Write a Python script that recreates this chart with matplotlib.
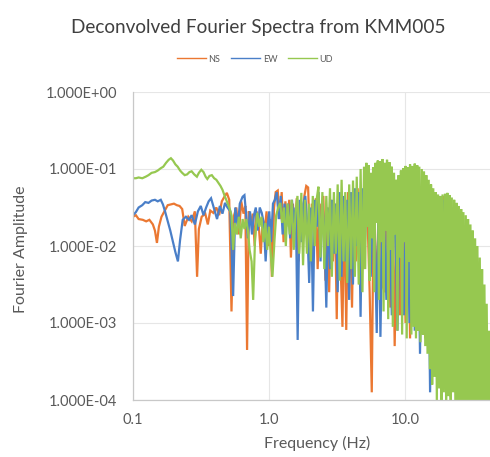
import matplotlib
matplotlib.use("Agg")
import matplotlib.pyplot as plt
from matplotlib.lines import Line2D
import numpy as np

# ---------------------------------------------------------------------------
# Chart text
# ---------------------------------------------------------------------------
title = "Deconvolved Fourier Spectra from KMM005"
x_label = "Frequency (Hz)"
y_label = "Fourier Amplitude"
series_names = ["NS", "EW", "UD"]
series_colors = ["#EB7832", "#4A7FC8", "#96C850"]

x_ticks = [0.1, 1.0, 10.0]
x_tick_labels = ["0.1", "1.0", "10.0"]
y_ticks = [1e-4, 1e-3, 1e-2, 1e-1, 1e0]
y_tick_labels = ["1.000E-04", "1.000E-03", "1.000E-02", "1.000E-01", "1.000E+00"]

# ---------------------------------------------------------------------------
# Spectra: frequency (Hz) and log10 of the Fourier amplitude
# ---------------------------------------------------------------------------
ns_freq = [
    0.100, 0.105, 0.110, 0.118, 0.125, 0.132, 0.140, 0.145, 0.150, 0.155,
    0.162, 0.170, 0.180, 0.190, 0.200, 0.210, 0.220, 0.230, 0.240, 0.255,
    0.270, 0.285, 0.296, 0.305, 0.320, 0.340, 0.355, 0.370, 0.390, 0.410,
    0.430, 0.450, 0.470, 0.490,
    0.51, 0.53, 0.55, 0.575, 0.60, 0.625, 0.65, 0.67, 0.69, 0.71,
    0.735, 0.76, 0.785, 0.81, 0.84, 0.87, 0.90, 0.93, 0.96, 0.99,
    1.02, 1.05, 1.09, 1.12, 1.16, 1.20, 1.24, 1.28, 1.32, 1.36,
    1.41, 1.45, 1.50, 1.55, 1.60, 1.65, 1.71, 1.76, 1.82, 1.88,
    1.94, 2.01, 2.07, 2.14, 2.21, 2.28, 2.36, 2.43, 2.51, 2.60,
    2.68, 2.77, 2.86, 2.95, 3.05, 3.15, 3.25, 3.36, 3.47, 3.58,
    3.70, 3.82, 3.95, 4.08, 4.21, 4.35, 4.49, 4.64, 4.79, 4.95,
    5.2, 5.5, 5.7, 5.9, 6.2, 6.5, 6.8, 7.1, 7.4, 7.8,
    8.1, 8.4, 8.8, 9.2, 9.6, 10.1, 10.5, 10.9, 11.4, 11.9,
    12.4, 12.9, 13.5, 14.1, 14.7, 15.4, 16.1, 16.9, 17.7, 18.5,
    19.3, 20.1, 21.0, 22.0, 23.0, 24.0, 25.2, 26.4, 27.6, 28.9,
    30.2, 31.6, 33.0, 34.5, 36.0, 37.6, 39.3, 41.0, 42.5,
]
ns_log_amp = [
    -1.62, -1.60, -1.65, -1.66, -1.68, -1.66, -1.72, -1.80, -1.96, -1.75,
    -1.62, -1.55, -1.47, -1.46, -1.45, -1.47, -1.48, -1.52, -1.74, -1.62,
    -1.68, -1.55, -2.40, -1.78, -1.62, -1.58, -1.72, -1.54, -1.57, -1.50,
    -1.60, -1.42, -1.36, -1.31,
    -1.40, -2.85, -1.62, -1.50, -1.85, -1.42, -1.58, -1.48, -3.35, -1.55,
    -1.70, -1.58, -2.00, -1.55, -1.72, -2.10, -1.65, -1.80, -1.55, -2.00,
    -1.65, -2.40, -1.50, -1.30, -1.28, -1.65, -1.30, -1.95, -1.42, -1.70,
    -1.40, -2.15, -1.45, -1.85, -1.38, -2.20, -1.45, -1.90, -1.35, -1.22,
    -1.24, -2.10, -1.45, -1.75, -1.38, -2.30, -1.45, -1.80, -1.35, -2.45,
    -1.50, -2.60, -1.40, -2.20, -1.45, -2.95, -1.35, -2.20, -3.05, -1.40,
    -3.09, -1.30, -1.75, -2.80, -1.30, -2.20, -1.25, -2.50, -1.28, -2.30,
    -1.10, -2.60, -3.90, -1.20, -2.70, -1.10, -2.50, -2.60, -1.05, -2.80,
    -1.10, -3.30, -1.20, -2.90, -1.10, -3.00, -1.20, -3.20, -1.05, -2.90,
    -1.10, -3.00, -1.10, -3.20, -1.20, -3.40, -1.30, -3.30, -1.40, -3.60,
    -1.35, -3.90, -1.40, -3.50, -1.50, -4.20, -1.60, -3.70, -1.80, -4.30,
    -2.00, -4.20, -2.30, -4.40, -2.70, -4.40, -3.20, -4.50, -3.80,
]

ew_freq = [
    0.100, 0.105, 0.110, 0.117, 0.123, 0.130, 0.137, 0.145, 0.152, 0.160,
    0.166, 0.172, 0.180, 0.188, 0.197, 0.205, 0.214, 0.222, 0.232, 0.245,
    0.258, 0.270, 0.285, 0.300, 0.315, 0.330, 0.345, 0.360, 0.375, 0.395,
    0.415, 0.435, 0.455, 0.475, 0.495,
    0.52, 0.545, 0.565, 0.59, 0.61, 0.64, 0.66, 0.68, 0.70, 0.725,
    0.75, 0.775, 0.80, 0.825, 0.855, 0.885, 0.915, 0.945, 0.975, 1.005,
    1.035, 1.07, 1.105, 1.14, 1.18, 1.22, 1.26, 1.30, 1.34, 1.385,
    1.43, 1.475, 1.525, 1.575, 1.625, 1.68, 1.735, 1.79, 1.85, 1.91,
    1.975, 2.04, 2.105, 2.175, 2.245, 2.32, 2.395, 2.47, 2.555, 2.64,
    2.725, 2.815, 2.905, 3.0, 3.10, 3.20, 3.305, 3.415, 3.525, 3.64,
    3.76, 3.885, 4.015, 4.145, 4.28, 4.42, 4.565, 4.715, 4.87, 5.03,
    5.3, 5.6, 5.9, 6.2, 6.4, 6.6, 6.9, 7.3, 7.6, 8.0,
    8.4, 8.8, 9.3, 9.8, 10.3, 10.8, 11.3, 11.8, 12.4, 12.9,
    13.5, 14.1, 14.7, 15.3, 16.0, 16.8, 17.6, 18.4, 19.3, 20.2,
    21.0, 21.6, 22.5, 23.6, 24.8, 26.3, 27.5, 28.8, 30.0, 31.4,
    32.8, 34.2, 35.8, 37.3, 39.0, 40.6, 42.5,
]
ew_log_amp = [
    -1.60, -1.56, -1.50, -1.47, -1.43, -1.44, -1.41, -1.40, -1.42, -1.40,
    -1.46, -1.55, -1.68, -1.80, -1.95, -2.08, -2.20, -1.92, -1.66, -1.62,
    -1.66, -1.60, -1.72, -1.55, -1.48, -1.60, -1.50, -1.42, -1.38, -1.52,
    -1.65, -1.48, -1.58, -1.44, -1.50,
    -1.55, -2.65, -1.50, -1.75, -1.45, -1.36, -1.34, -1.60, -1.90, -1.55,
    -1.85, -1.60, -1.50, -1.80, -1.50, -1.57, -1.70, -2.20, -1.75, -1.55,
    -1.95, -1.45, -1.40, -1.30, -1.65, -1.35, -1.85, -1.45, -1.75, -1.45,
    -1.90, -1.40, -1.70, -1.50, -3.22, -1.40, -1.95, -1.45, -1.35, -1.70,
    -2.48, -1.50, -2.85, -1.40, -1.75, -1.30, -2.20, -1.45, -1.80, -2.80,
    -1.50, -2.30, -1.40, -2.10, -1.45, -2.60, -1.30, -2.40, -1.35, -2.20,
    -1.40, -2.70, -1.30, -2.50, -1.25, -2.00, -1.30, -2.92, -1.25, -2.10,
    -1.15, -2.40, -1.20, -3.13, -1.36, -3.18, -1.20, -2.70, -1.10, -2.90,
    -1.15, -3.10, -1.10, -2.90, -1.15, -3.00, -1.10, -3.10, -1.20, -3.40,
    -1.20, -3.00, -1.25, -3.90, -1.30, -3.60, -1.35, -3.40, -1.40, -3.50,
    -1.40, -3.20, -1.50, -3.80, -1.60, -4.30, -1.80, -4.00, -2.00, -4.40,
    -2.30, -4.30, -2.60, -4.50, -3.00, -4.40, -3.50,
]

ud_freq = [
    0.100, 0.105, 0.110, 0.117, 0.124, 0.130, 0.137, 0.145, 0.152, 0.160,
    0.167, 0.175, 0.183, 0.190, 0.197, 0.205, 0.213, 0.222, 0.230, 0.240,
    0.250, 0.260, 0.270, 0.282, 0.295, 0.305, 0.318, 0.330, 0.342, 0.352,
    0.365, 0.380, 0.395, 0.410, 0.425, 0.440, 0.455, 0.470, 0.485, 0.500,
    0.515,
    0.53, 0.545, 0.56, 0.58, 0.60, 0.62, 0.64, 0.66, 0.68, 0.70,
    0.72, 0.745, 0.765, 0.79, 0.82, 0.85, 0.88, 0.91, 0.94, 0.97,
    1.00,
    1.03, 1.06, 1.10, 1.13, 1.17, 1.21, 1.25, 1.29, 1.33, 1.37,
    1.42, 1.47, 1.52, 1.57, 1.62, 1.67, 1.73, 1.78, 1.84, 1.90,
    1.97, 2.03, 2.10, 2.17, 2.24, 2.31, 2.39, 2.47, 2.55, 2.64,
    2.72, 2.81, 2.90, 3.00, 3.10, 3.20, 3.31, 3.42, 3.53, 3.64,
    3.76, 3.89, 4.02, 4.15, 4.28, 4.42, 4.57, 4.72, 4.87,
    5.0, 5.1, 5.2, 5.3, 5.4, 5.5, 5.6, 5.72, 5.83, 5.95,
    6.07, 6.19, 6.31, 6.43, 6.56, 6.69, 6.82, 6.96, 7.1, 7.24,
    7.38, 7.53, 7.68, 7.83, 7.98, 8.14, 8.3, 8.47, 8.64, 8.81,
    8.98, 9.16, 9.34, 9.53, 9.72, 9.91, 10.1, 10.3, 10.5, 10.7,
    10.9, 11.15, 11.35, 11.6, 11.8, 12.05, 12.3, 12.5, 12.75, 13.0,
    13.3, 13.55, 13.8, 14.1, 14.35, 14.65, 14.95, 15.25, 15.55, 15.85,
    16.15, 16.5, 16.8, 17.15, 17.5, 17.85, 18.2, 18.55, 18.9, 19.3,
    19.7, 20.1, 20.5, 20.9, 21.3, 21.7, 22.1, 22.6, 23.0, 23.5,
    24.0, 24.4, 24.9, 25.4, 25.9, 26.4, 26.9, 27.5, 28.0, 28.6,
    29.1, 29.7, 30.3, 30.9, 31.5, 32.1, 32.8, 33.4, 34.1, 34.8,
    35.5, 36.2, 36.9, 37.6, 38.4, 39.1, 39.9, 40.7, 41.5, 42.3,
    43.2,
]
ud_log_amp = [
    -1.12, -1.12, -1.11, -1.12, -1.10, -1.08, -1.05, -1.04, -1.02, -0.99,
    -0.97, -0.92, -0.88, -0.86, -0.89, -0.94, -0.97, -1.02, -1.05, -1.08,
    -1.07, -1.04, -1.03, -1.07, -1.10, -1.05, -1.01, -1.04, -1.10, -1.13,
    -1.09, -1.08, -1.12, -1.14, -1.18, -1.22, -1.27, -1.34, -1.40, -1.46,
    -1.52,
    -1.60, -2.05, -1.70, -1.85, -1.62, -1.90, -1.65, -1.78, -1.65, -1.80,
    -2.05, -2.20, -2.70, -1.90, -1.57, -1.75, -1.62, -1.95, -1.70, -2.05,
    -1.75,
    -2.10, -2.40, -1.90, -1.60, -1.50, -1.44, -1.70, -1.50, -2.00, -1.45,
    -1.85, -1.40, -2.05, -1.55, -1.35, -2.10, -1.31, -2.25, -1.40, -2.10,
    -1.45, -2.20, -1.35, -2.00, -1.40, -1.23, -2.15, -1.30, -2.30, -1.35,
    -2.00, -1.25, -2.40, -1.30, -2.10, -1.20, -2.45, -1.14, -2.20, -1.30,
    -2.48, -1.20, -2.30, -1.15, -2.40, -1.10, -2.50, -1.00, -2.60,
    -0.97, -2.30, -0.92, -1.75, -0.95, -2.45, -1.05, -1.90, -0.98, -2.60,
    -0.92, -1.70, -0.89, -2.70, -0.90, -1.95, -0.87, -2.85, -0.92, -1.80,
    -0.88, -2.95, -0.91, -2.05, -0.97, -3.05, -1.05, -1.85, -1.14, -3.10,
    -1.08, -2.15, -1.02, -3.15, -0.99, -1.95, -0.96, -3.20, -0.98, -2.20,
    -0.94, -3.15, -0.96, -3.05, -0.93, -3.20, -0.95, -3.10, -0.97, -3.25,
    -1.00, -3.15, -1.03, -3.30, -1.08, -3.40, -1.14, -3.60, -1.20, -3.80,
    -1.25, -3.70, -1.30, -4.00, -1.33, -3.85, -1.35, -4.10, -1.33, -3.90,
    -1.32, -4.20, -1.31, -3.95, -1.34, -4.15, -1.37, -3.90, -1.40, -4.20,
    -1.44, -4.00, -1.48, -4.30, -1.52, -4.05, -1.56, -4.30, -1.60, -4.10,
    -1.65, -4.35, -1.72, -4.20, -1.80, -4.40, -1.90, -4.25, -2.00, -4.45,
    -2.15, -4.30, -2.30, -4.50, -2.50, -4.40, -2.75, -4.55, -3.10, -4.50,
    -3.60,
]

spectra = [
    (ns_freq, ns_log_amp),
    (ew_freq, ew_log_amp),
    (ud_freq, ud_log_amp),
]

# ---------------------------------------------------------------------------
# Figure
# ---------------------------------------------------------------------------
plt.rcParams["font.family"] = ["Lato", "DejaVu Sans"]
text_color = "#595959"

W, H = 490, 457
fig = plt.figure(figsize=(W / 100, H / 100), dpi=100)
fig.patch.set_facecolor("white")

# plot area in pixels: left 133, right 490, top 92, bottom 400
ax = fig.add_axes([133 / W, (H - 400) / H, (490 - 133) / W, (400 - 92) / H])
ax.set_xscale("log")
ax.set_yscale("log")

for (freq, log_amp), color, name in zip(spectra, series_colors, series_names):
    ax.plot(freq, 10.0 ** np.asarray(log_amp), color=color, lw=1.6,
            solid_joinstyle="miter", label=name)

ax.set_xlim(0.1, 42.2)
ax.set_ylim(1e-4, 1.0)

ax.set_xticks(x_ticks)
ax.set_xticklabels(x_tick_labels)
ax.set_yticks(y_ticks)
ax.set_yticklabels(y_tick_labels)
ax.minorticks_off()
ax.tick_params(axis="both", length=0, labelsize=10.5, colors=text_color)
ax.tick_params(axis="x", pad=9.5)
ax.tick_params(axis="y", pad=11.5)

ax.grid(True, which="major", color="#e6e6e6", lw=0.8)
ax.set_axisbelow(True)
for side in ("top", "right"):
    ax.spines[side].set_visible(False)
for side in ("left", "bottom"):
    ax.spines[side].set_color("#c8c8c8")
    ax.spines[side].set_linewidth(0.9)

fig.text(258 / W, 1 - 27 / H, title, ha="center", va="center",
         fontsize=13.7, color="#404040")
fig.text(317 / W, 1 - 443 / H, x_label, ha="center", va="center",
         fontsize=11.5, color=text_color)
fig.text(21 / W, 1 - 249 / H, y_label, ha="center", va="center",
         rotation=90, fontsize=11.5, color=text_color)

handles = [Line2D([], [], color=c, lw=1.0) for c in series_colors]
fig.legend(handles, series_names, loc="center", ncol=3,
           bbox_to_anchor=(255 / W, 1 - 59 / H), frameon=False,
           fontsize=6.5, handlelength=3.2, handletextpad=0.3,
           columnspacing=1.2, labelcolor=text_color)

fig.savefig("out.png", dpi=100, facecolor="white")
